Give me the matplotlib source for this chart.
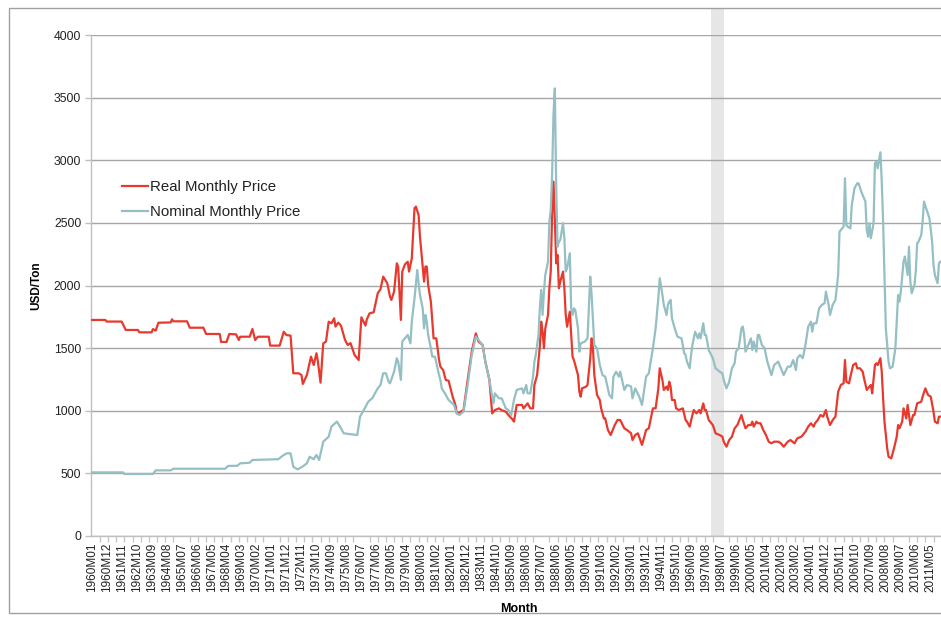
import matplotlib
matplotlib.use("Agg")
import matplotlib.pyplot as plt
from matplotlib.patches import Rectangle
from matplotlib.ticker import MultipleLocator

plt.rcParams['font.family'] = ['Liberation Sans', 'DejaVu Sans']

# ---------------- data ----------------
real_months = [
 "1960M01","1960M11","1960M12","1961M11","1962M02","1962M11","1962M12","1963M09","1963M10","1963M12",
 "1964M02","1964M11","1964M12","1965M01","1965M11","1966M01","1966M11","1967M01","1967M11","1967M12",
 "1968M04","1968M06","1968M11","1969M01","1969M02","1969M09","1969M11","1970M01","1970M03","1970M11",
 "1970M12","1971M07","1971M10","1971M12","1972M03","1972M05","1972M09","1972M11","1972M12","1973M03",
 "1973M06","1973M08","1973M10","1973M11","1974M01","1974M03","1974M05","1974M07","1974M09","1974M11",
 "1974M12","1975M02","1975M04","1975M07","1975M09","1975M11","1976M02","1976M05","1976M07","1976M10",
 "1976M11","1977M01","1977M04","1977M07","1977M09","1977M11","1978M02","1978M04","1978M05","1978M07",
 "1978M09","1978M10","1978M12","1979M01","1979M03","1979M05","1979M06","1979M08","1979M10","1979M11",
 "1980M01","1980M02","1980M03","1980M05","1980M06","1980M07","1980M08","1980M10","1980M12","1981M02",
 "1981M04","1981M05","1981M07","1981M09","1981M11","1982M02","1982M04","1982M05","1982M07","1982M10",
 "1983M01","1983M04","1983M07","1983M09","1983M12","1984M02","1984M05","1984M07","1984M09","1984M12",
 "1985M02","1985M05","1985M07","1985M10","1985M11","1986M01","1986M05","1986M06","1986M09","1986M11",
 "1987M01","1987M02","1987M04","1987M06","1987M07","1987M08","1987M09","1987M10","1987M12","1988M01",
 "1988M02","1988M03","1988M04","1988M05","1988M06","1988M07","1988M08","1988M09","1988M11","1988M12",
 "1989M01","1989M02","1989M04","1989M05","1989M06","1989M07","1989M08","1989M10","1989M11","1989M12",
 "1990M01","1990M04","1990M05","1990M07","1990M08","1990M09","1990M10","1990M12","1991M02","1991M03",
 "1991M05","1991M06","1991M08","1991M10","1992M01","1992M03","1992M05","1992M08","1992M10","1993M01",
 "1993M02","1993M04","1993M06","1993M09","1993M12","1994M02","1994M05","1994M07","1994M09","1994M10",
 "1994M12","1995M01","1995M03","1995M04","1995M05","1995M06","1995M07","1995M09","1995M10","1995M12",
 "1996M03","1996M05","1996M06","1996M08","1996M10","1996M11","1997M01","1997M03","1997M04","1997M06",
 "1997M07","1997M08","1997M09","1997M10","1998M01","1998M03","1998M06","1998M08","1998M09","1998M11",
 "1999M01","1999M03","1999M05","1999M07","1999M09","1999M10","1999M11","2000M01","2000M03","2000M05",
 "2000M06","2000M07","2000M09","2000M10","2000M12","2001M02","2001M04","2001M06","2001M08","2001M10",
 "2002M01","2002M03","2002M05","2002M08","2002M10","2003M01","2003M03","2003M06","2003M09","2003M11",
 "2004M01","2004M03","2004M04","2004M06","2004M08","2004M10","2004M12","2005M01","2005M03","2005M05",
 "2005M07","2005M09","2005M11","2006M01","2006M02","2006M03","2006M05","2006M06","2006M08","2006M10",
 "2006M11","2007M01","2007M03","2007M04","2007M06","2007M08","2007M09","2007M10","2007M12","2008M01",
 "2008M02","2008M04","2008M05","2008M06","2008M07","2008M09","2008M10","2008M12","2009M02","2009M04",
 "2009M05","2009M06","2009M08","2009M09","2009M11","2009M12","2010M02","2010M04","2010M05","2010M07",
 "2010M10","2010M11","2011M01","2011M03","2011M05","2011M07","2011M08","2011M10","2011M11","2011M12",
]
real_values = [
 1725,1725,1712,1712,1645,1645,1626,1626,1652,1640,
 1703,1705,1730,1714,1714,1663,1663,1613,1613,1549,
 1549,1613,1610,1565,1591,1591,1653,1565,1591,1591,
 1520,1520,1631,1604,1600,1299,1299,1286,1214,1286,
 1432,1365,1459,1400,1224,1538,1552,1711,1698,1738,
 1672,1704,1680,1565,1525,1540,1445,1405,1746,1680,
 1730,1778,1786,1938,1970,2071,2018,1911,1885,1951,
 2177,2150,1725,2111,2169,2190,2111,2217,2616,2630,
 2563,2390,2270,2031,2151,2151,2004,1871,1578,1578,
 1405,1352,1325,1245,1240,1112,1046,979,985,1006,
 1245,1472,1618,1552,1525,1392,1245,979,1005,1019,
 1005,992,965,930,913,1046,1046,1019,1059,1019,
 1019,1206,1285,1512,1711,1631,1499,1658,1765,1978,
 2111,2563,2829,2537,2177,2244,1978,2031,2111,1978,
 1765,1671,1791,1605,1432,1405,1365,1285,1152,1112,
 1179,1193,1206,1419,1578,1499,1285,1126,1086,1019,
 939,939,846,806,886,926,926,860,846,820,
 766,806,820,727,846,860,1019,1019,1179,1339,
 1245,1166,1193,1166,1232,1193,1086,1086,1019,1006,
 1019,926,913,873,966,1006,979,1006,979,1059,
 1006,1006,966,926,886,820,806,793,753,713,
 766,793,860,886,939,966,926,860,886,886,
 913,873,913,900,900,846,806,753,740,753,
 753,740,713,753,766,740,780,793,833,873,
 900,873,900,926,966,953,1006,953,886,926,
 953,1152,1206,1219,1405,1232,1219,1272,1365,1379,
 1339,1339,1312,1259,1166,1193,1206,1139,1365,1379,
 1365,1419,1312,1099,913,700,633,620,700,793,
 886,860,913,1019,939,1046,886,966,966,1059,
 1072,1112,1179,1126,1112,993,913,900,953,953,
]

nominal_months = [
 "1960M01","1961M12","1962M01","1963M10","1963M12","1964M11","1965M01","1968M03","1968M05","1968M12",
 "1969M02","1969M09","1969M11","1971M06","1971M09","1971M12","1972M03","1972M05","1972M08","1972M11",
 "1973M03","1973M05","1973M08","1973M10","1973M12","1974M03","1974M07","1974M09","1975M01","1975M03",
 "1975M06","1976M04","1976M06","1976M09","1976M12","1977M03","1977M07","1977M09","1977M11","1978M01",
 "1978M03","1978M04","1978M07","1978M09","1978M10","1978M12","1979M01","1979M03","1979M05","1979M07",
 "1979M08","1979M10","1979M12","1980M01","1980M02","1980M04","1980M05","1980M06","1980M07","1980M08",
 "1980M10","1980M11","1981M01","1981M04","1981M05","1981M06","1981M09","1981M11","1982M03","1982M05",
 "1982M07","1982M10","1983M01","1983M04","1983M07","1983M09","1983M12","1984M02","1984M05","1984M07",
 "1984M08","1984M09","1984M12","1985M02","1985M05","1985M07","1985M09","1985M11","1986M01","1986M05",
 "1986M06","1986M08","1986M09","1986M11","1987M01","1987M02","1987M03","1987M05","1987M06","1987M07",
 "1987M08","1987M09","1987M10","1987M12","1988M01","1988M02","1988M03","1988M04","1988M05","1988M06",
 "1988M07","1988M08","1988M09","1988M11","1988M12","1989M01","1989M02","1989M04","1989M05","1989M06",
 "1989M07","1989M08","1989M10","1989M11","1989M12","1990M03","1990M05","1990M06","1990M07","1990M08",
 "1990M10","1990M12","1991M02","1991M04","1991M06","1991M09","1991M11","1991M12","1992M02","1992M04",
 "1992M05","1992M08","1992M10","1993M01","1993M02","1993M04","1993M07","1993M09","1993M12","1994M02",
 "1994M05","1994M07","1994M09","1994M10","1994M12","1995M01","1995M03","1995M04","1995M05","1995M06",
 "1995M07","1995M09","1995M11","1996M02","1996M04","1996M05","1996M06","1996M08","1996M09","1996M10",
 "1996M12","1997M02","1997M03","1997M04","1997M06","1997M07","1997M08","1997M10","1998M01","1998M03",
 "1998M06","1998M08","1998M09","1998M11","1999M01","1999M03","1999M05","1999M06","1999M08","1999M10",
 "1999M11","1999M12","2000M01","2000M03","2000M05","2000M06","2000M07","2000M09","2000M10","2000M11",
 "2001M01","2001M03","2001M05","2001M08","2001M10","2002M01","2002M03","2002M05","2002M08","2002M10",
 "2002M12","2003M02","2003M03","2003M05","2003M07","2003M09","2003M11","2004M01","2004M02","2004M03",
 "2004M05","2004M07","2004M09","2004M11","2004M12","2005M02","2005M03","2005M05","2005M07","2005M09",
 "2005M10","2005M12","2006M01","2006M02","2006M03","2006M04","2006M06","2006M07","2006M09","2006M11",
 "2006M12","2007M02","2007M03","2007M05","2007M06","2007M07","2007M08","2007M09","2007M11","2007M12",
 "2008M01","2008M02","2008M04","2008M05","2008M06","2008M07","2008M08","2008M10","2008M11","2009M01",
 "2009M03","2009M04","2009M05","2009M06","2009M07","2009M09","2009M10","2009M12","2010M01","2010M02",
 "2010M03","2010M05","2010M06","2010M07","2010M08","2010M10","2010M11","2010M12","2011M02","2011M04",
 "2011M06","2011M07","2011M08","2011M10","2011M11","2011M12",
]
nominal_values = [
 508,508,495,495,524,524,537,537,559,561,
 580,585,607,613,639,660,660,553,532,548,
 580,633,613,647,607,753,793,873,913,880,
 820,806,953,1010,1072,1100,1179,1206,1299,1299,
 1232,1219,1312,1419,1392,1246,1552,1578,1605,1538,
 1711,1898,2124,2018,1924,1818,1658,1765,1711,1605,
 1499,1432,1432,1285,1246,1179,1126,1086,1046,979,
 966,993,1206,1445,1592,1565,1525,1392,1246,1112,
 1059,1139,1099,1099,1019,1006,966,1086,1166,1179,
 1139,1206,1139,1139,1272,1392,1445,1605,1818,1965,
 1765,1951,2084,2190,2510,2600,2882,3361,3574,2800,
 2310,2350,2364,2497,2377,2111,2137,2257,1818,1765,
 1818,1805,1658,1472,1538,1552,1578,1818,2071,1924,
 1525,1499,1365,1285,1272,1126,1099,1272,1312,1272,
 1312,1166,1206,1193,1099,1179,1112,1046,1272,1299,
 1499,1658,1900,2058,1924,1845,1764,1845,1871,1885,
 1738,1658,1592,1578,1459,1445,1392,1339,1445,1525,
 1631,1578,1618,1578,1698,1605,1605,1485,1419,1339,
 1312,1299,1246,1179,1232,1339,1379,1472,1499,1658,
 1672,1605,1472,1525,1578,1485,1552,1472,1605,1605,
 1525,1499,1392,1285,1365,1392,1339,1285,1352,1352,
 1405,1325,1419,1445,1419,1525,1671,1711,1631,1698,
 1698,1818,1845,1858,1951,1845,1765,1845,1885,2084,
 2430,2457,2470,2856,2483,2470,2457,2643,2776,2816,
 2816,2749,2723,2670,2443,2390,2497,2377,2497,2976,
 2989,2936,3063,2829,2510,2084,1658,1392,1339,1352,
 1499,1711,1924,1871,1951,2190,2231,2084,2310,2031,
 1938,2004,2111,2337,2350,2403,2510,2670,2603,2537,
 2350,2164,2084,2018,2177,2190,
]

first_year, last_year = 1960, 2011
label_step = 11
y_ticks = [0, 500, 1000, 1500, 2000, 2500, 3000, 3500, 4000]
band_months = ["1997M12", "1998M09"]

# ---------------- helpers ----------------
def month_index(s):
    return (int(s[:4]) - first_year) * 12 + int(s[5:]) - 1

categories = ["%dM%02d" % (y, m) for y in range(first_year, last_year + 1) for m in range(1, 13)]
n = len(categories)

W, H = 941, 622
fig = plt.figure(figsize=(W / 100, H / 100), dpi=100)
ax = fig.add_axes([91 / W, 1 - 536 / H, 850 / W, 501 / H])

RED = '#E8392E'
TEAL = '#94BFC3'

ax.plot([month_index(s) for s in real_months], real_values, color=RED, lw=1.6,
        label='Real Monthly Price', zorder=3, solid_joinstyle='round')
ax.plot([month_index(s) for s in nominal_months], nominal_values, color=TEAL, lw=1.6,
        label='Nominal Monthly Price', zorder=4, solid_joinstyle='round')

# shaded band
b0 = month_index(band_months[0]) - 0.5
b1 = month_index(band_months[1]) + 0.5
ax.axvspan(b0, b1, ymin=0, ymax=(536 - 8) / 501, color='#E6E6E6', lw=0,
           zorder=0.2, clip_on=False)

ax.set_xlim(-0.5, n - 0.5)
ax.set_ylim(0, 4000)
ax.set_yticks(y_ticks)
ax.set_yticklabels([str(v) for v in y_ticks])
tick_pos = list(range(0, n, label_step))
ax.set_xticks(tick_pos)
ax.set_xticklabels([categories[i] for i in tick_pos], rotation=90)
ax.xaxis.set_minor_locator(MultipleLocator(6))

ax.set_axisbelow(True)
ax.yaxis.grid(True, color='#A6A6A6', lw=1.0, zorder=0.5)
for sp in ['top', 'right']:
    ax.spines[sp].set_visible(False)
for sp in ['left', 'bottom']:
    ax.spines[sp].set_color('#BFBFBF')
    ax.spines[sp].set_linewidth(1.0)

ax.tick_params(axis='y', length=4, width=1, color='#BFBFBF', labelsize=8.8, pad=3,
               labelcolor='#222222')
ax.tick_params(axis='x', which='major', length=0, labelsize=8.5, pad=5, labelcolor='#222222')
ax.tick_params(axis='x', which='minor', length=4, width=1, color='#C8C8C8')

ax.set_ylabel('USD/Ton', fontsize=8.5, fontweight='bold', labelpad=14)
ax.yaxis.set_label_coords((42 - 91) / 850, 0.5)
ax.set_xlabel('Month', fontsize=9, fontweight='bold')
ax.xaxis.set_label_coords((519 - 91) / 850, (536 - 603) / 501)

leg = ax.legend(loc='upper left', bbox_to_anchor=((122 - 91) / 850, (536 - 180) / 501),
                frameon=False, fontsize=10.8, handlelength=1.75, handletextpad=0.15,
                labelspacing=0.75, borderpad=0, borderaxespad=0)
for t in leg.get_texts():
    t.set_color('#222222')

fig.patches.append(Rectangle((9 / W, 1 - 613 / H), 1.0, (613 - 8) / H, transform=fig.transFigure,
                             fill=False, edgecolor='#A0A0A0', lw=1.0))

fig.savefig('out.png', dpi=100)
